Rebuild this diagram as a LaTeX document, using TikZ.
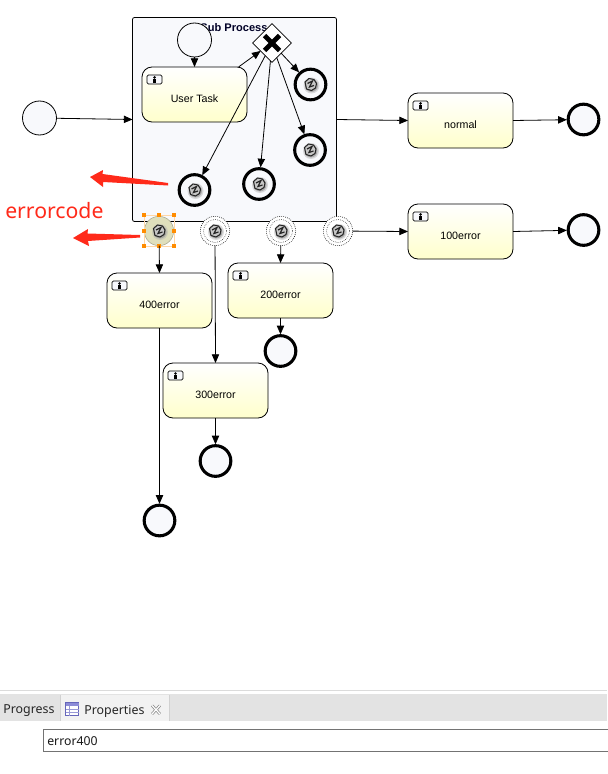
\documentclass[tikz,border=0pt]{standalone}
\usepackage{fontspec}
\setmainfont{Liberation Sans}
\newfontfamily\uifont{Noto Sans}
\usetikzlibrary{arrows.meta,shapes.geometric,positioning}
\definecolor{pale}{HTML}{F8F9FC}
\definecolor{yel}{HTML}{FFFFCC}
\definecolor{redar}{HTML}{FF2A1A}
\definecolor{orng}{HTML}{FF8C00}
\definecolor{olive}{HTML}{DFDFBC}
\tikzset{
  flow/.style={draw=black,line width=0.6pt,-{Triangle[length=6.5pt,width=5.5pt]}},
  task/.style={draw=black,line width=0.6pt,rounded corners=7.5pt,minimum width=78.75pt,minimum height=41.25pt,
    top color=white,bottom color=yel,inner sep=0pt,outer sep=0pt,font=\fontsize{8}{9}\selectfont},
  startev/.style={circle,draw=black,line width=0.6pt,fill=pale,minimum size=25.5pt,inner sep=0pt,outer sep=0pt},
  endev/.style={circle,draw=black,line width=2.3pt,fill=pale,minimum size=23pt,inner sep=0pt,outer sep=1pt},
  innerev/.style={circle,draw=black,line width=2.3pt,fill=pale,minimum size=23pt,inner sep=0pt,outer sep=1pt},
  boundev/.style={circle,draw=black,densely dotted,line width=0.5pt,fill=white,minimum size=22pt,inner sep=0pt,outer sep=0pt},
  gate/.style={diamond,draw=black,line width=0.6pt,fill=white,minimum size=29pt,inner sep=0pt,outer sep=0pt},
  handle/.style={fill=orng,draw=none,minimum size=3.7pt,inner sep=0pt},
  redarrow/.style={fill=redar,draw=none},
  erricon/.pic={
    \fill[black!30,opacity=0.45] (1,1) circle (8);
    \fill[black!45,opacity=0.6] (1,1) circle (6.5);
    \draw[black!85,fill=black!22,line width=0.8pt]
      (-5.5,-2.5) -- (-1.5,-6) -- (3.5,-5) -- (6,-1) -- (5,3.5) -- (1,6) -- (-4,4.5) -- cycle;
    \draw[black!85,line width=0.9pt] (-3,-1) -- (2,-3.5) -- (-1,2.5) -- (3.5,1);
  },
  usericon/.pic={
    \draw[black,line width=0.6pt,fill=pale,rounded corners=1pt] (0,0) rectangle (15,9);
    \fill[black] (7.5,2.4) circle (1.4);
    \fill[black] (5.8,7.6) -- (5.8,4.2) -- (9.2,4.2) -- (9.2,7.6) -- cycle;
  }
}
\newcommand{\tasknode}[4]{%
  \node[task] (#1) at (#2,#3) {\smash{\raisebox{-6.2pt}{#4}}};
  \pic at ([xshift=3.75pt,yshift=-6pt]#1.north west) {usericon};
}
\begin{document}
\begin{tikzpicture}[x=0.75pt,y=-0.75pt]
\useasboundingbox (0,0) rectangle (607,774);
\fill[white] (0,0) rectangle (607,774);

% sub process
\node[draw=black,line width=0.6pt,rounded corners=1.5pt,fill=pale,minimum width=153pt,minimum height=153pt,inner sep=0pt,outer sep=0pt] (sp) at (234.5,119.5) {};
\node[font=\bfseries\fontsize{8.3}{9}\selectfont,text=black!85!blue] (sptitle) at (234,28) {Sub Process};

\node[startev] (s0) at (39.5,118) {};
\node[startev] (s1) at (194.5,40) {};
\tasknode{ut}{194.5}{94.5}{User Task}
\node[gate] (gw) at (272,43) {};
\draw[black,line width=3.6pt] (264.5,35.5) -- (279.5,50.5) (264.5,50.5) -- (279.5,35.5);

\node[innerev] (i1) at (310.5,84.5) {};
\node[innerev] (i2) at (310,150) {};
\node[innerev] (i3) at (259,184) {};
\node[innerev] (i4) at (194.5,190) {};

% selection halo
\node[circle,fill=olive,draw=olive!75!black,line width=0.4pt,minimum size=22pt,inner sep=0pt] (halo) at (159,231) {};
\node[boundev,draw=none,fill=none] (b1) at (159,231) {};
\node[boundev] (b2) at (215,231) {};
\node[boundev] (b3) at (281,231) {};
\node[boundev] (b4) at (338,231) {};
\foreach \n in {b2,b3,b4}{\draw[black,densely dotted,line width=0.4pt,fill=white] (\n) circle (11.5);}
\foreach \n in {i1,i2,i3,i4,b1,b2,b3,b4}{\pic at (\n) {erricon};}

% selection frame
\draw[orng!35,line width=0.4pt] (144.5,215.5) rectangle (174.5,246.5);
\foreach \hx/\hy/\hn in {144/215/ha,159/215/hb,174/215/hc,144/231/hd,174/231/he,144/246/hf,159/246/hg,174/246/hh}{
  \node[handle] (\hn) at (\hx,\hy) {};
}

% tasks and ends
\tasknode{tn}{460.5}{120.5}{normal}
\tasknode{te}{460.5}{231.5}{100error}
\tasknode{t4}{159.5}{300.5}{400error}
\tasknode{t2}{280.5}{290.5}{200error}
\tasknode{t3}{215.5}{390.5}{300error}
\node[endev] (en) at (583.5,119.5) {};
\node[endev] (ee) at (583.5,230) {};
\node[endev] (e4) at (159.5,520.5) {};
\node[endev] (e2) at (280.5,351) {};
\node[endev] (e3) at (215.5,461) {};

% connectors
\draw[flow] (s0) -- (sp.west);
\draw[flow] (s1) -- (ut.north);
\draw[flow] (ut.32) -- (gw.215);
\draw[flow] (gw.-48) -- (i1);
\draw[flow] (gw.-72) -- (i2);
\draw[flow] (gw.-95) -- (i3);
\draw[flow] (gw.-118) -- (i4);
\draw[flow] (sp.east) -- (tn.west);
\draw[flow] (tn.east) -- (en);
\draw[flow] (b4) -- (te.west);
\draw[flow] (te.east) -- (ee);
\draw[flow] (b1) -- (t4.north);
\draw[flow] (t4.south) -- (e4);
\draw[flow] (b2) -- (t3.north);
\draw[flow] (t3.south) -- (e3);
\draw[flow] (b3) -- (t2.north);
\draw[flow] (t2.south) -- (e2);

% red annotations
\fill[redarrow] (90,177) -- (103,170) -- (102.5,174) -- (168,183) -- (168,185.5) -- (103,182) -- (103,187) -- cycle;
\fill[redarrow] (73,238) -- (88,229) -- (87.5,233.5) -- (140,235) -- (140,237.5) -- (88,241) -- (89,246) -- cycle;
\node[anchor=west,inner sep=0pt,text=redar,font=\uifont\fontsize{15.9}{18}\selectfont] (ec) at (5,211) {errorcode};

% bottom panel
\fill[black!11] (0,694) rectangle (607,721);
\draw[black!14,line width=1pt] (0,690.5) -- (607,690.5);
\fill[black!5] (60,695) rectangle (169,721);
\draw[black!18,line width=0.6pt] (60,695) -- (60,721) (169,695) -- (169,721);
\node[anchor=west,inner sep=0pt,font=\uifont\fontsize{9.3}{11}\selectfont,text=black!85] (tp1) at (3,711) {Progress};
\node[anchor=west,inner sep=0pt,font=\uifont\fontsize{9.3}{11}\selectfont,text=black!85] (tp2) at (84,711) {Properties};
\draw[black!45!blue!60!white,fill=white,line width=0.6pt] (65.5,702.5) rectangle (78.5,715.5);
\fill[black!35!blue!45!white] (65.5,702.5) rectangle (78.5,706);
\draw[black!40!blue!40!white,line width=0.4pt] (69.5,706) -- (69.5,715.5) (65.5,709) -- (78.5,709) (65.5,712) -- (78.5,712);
\draw[black!45,line width=2pt] (152,705.5) -- (160,714) (160,705.5) -- (152,714);
\draw[white,line width=0.9pt] (152,705.5) -- (160,714) (160,705.5) -- (152,714);
\node[draw=black!55,line width=0.6pt,fill=white,minimum height=16.5pt,minimum width=428pt,inner sep=0pt,outer sep=0pt] (inp) at (329,740) {};
\node[anchor=west,inner sep=0pt,font=\uifont\fontsize{9.2}{11}\selectfont,text=black!90] (val) at (47,741) {error400};
\end{tikzpicture}
\end{document}
